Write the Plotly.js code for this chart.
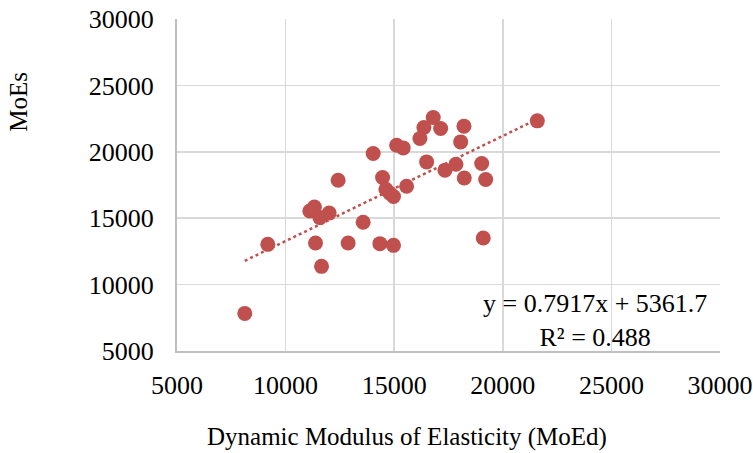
<!DOCTYPE html>
<html>
<head>
<meta charset="utf-8">
<script src="https://cdn.plot.ly/plotly-3.0.1.min.js"></script>
<style>html,body{margin:0;padding:0;background:#fff;}#chart{width:753px;height:453px;}</style>
</head>
<body>
<div id="chart"></div>
<script>
// Dynamic modulus (MoEd) values
const moed = [8120, 9180, 11115, 11327, 11576, 12005, 11378, 11654, 12419, 12880,
  13571, 14032, 14341, 14968, 14465, 14618, 14802, 14968, 15111, 15415,
  15571, 16184, 16369, 16797, 17138, 16493, 17336, 17843, 18060, 18212,
  18226, 19028, 19212, 19101, 21590];
// Static modulus (MoEs) values
const moes = [7830, 13030, 15543, 15845, 15045, 15392, 13130, 11373, 17858, 13130,
  14690, 19872, 13085, 12956, 18062, 17179, 16878, 16629, 20498, 20294,
  17406, 21003, 21833, 22587, 21757, 19238, 18612, 19065, 20747, 21931,
  18032, 19118, 17911, 13507, 22330];
// Trendline coefficients as printed on the chart
const slope = 0.7917;
const intercept = 5361.7;
const r2 = 0.488;
const xTitle = 'Dynamic Modulus of Elasticity (MoEd)';
const yTitle = 'MoEs';

const xmin = Math.min(...moed), xmax = Math.max(...moed);
const trendX = [xmin, xmax];
const trendY = trendX.map(v => slope * v + intercept);

const red = '#C0504D';
const fam = '"Liberation Serif", "Times New Roman", serif';
const tickFont = {family: fam, size: 26, color: '#000'};
const titleFont = {family: fam, size: 25, color: '#000'};

const data = [
  {x: trendX, y: trendY, type: 'scatter', mode: 'lines',
   line: {color: red, width: 2.5, dash: 'dot'}, hoverinfo: 'skip'},
  {x: moed, y: moes, type: 'scatter', mode: 'markers',
   marker: {color: red, size: 15}}
];

const layout = {
  width: 753, height: 453,
  margin: {l: 177, r: 33, t: 19, b: 102},
  paper_bgcolor: '#fff', plot_bgcolor: '#fff',
  showlegend: false,
  font: tickFont,
  xaxis: {
    range: [5000, 30000], dtick: 5000, tick0: 5000,
    showgrid: true, gridcolor: '#D9D9D9', gridwidth: 1.5,
    zeroline: false, showline: true, linecolor: '#BFBFBF', linewidth: 2,
    ticks: 'outside', ticklen: 10, tickcolor: 'rgba(0,0,0,0)',
    tickfont: tickFont, tickformat: 'd'
  },
  yaxis: {
    range: [5000, 30000], dtick: 5000, tick0: 5000,
    showgrid: true, gridcolor: '#D9D9D9', gridwidth: 1.5,
    zeroline: false, showline: true, linecolor: '#BFBFBF', linewidth: 2,
    ticks: 'outside', ticklen: 16, tickcolor: 'rgba(0,0,0,0)',
    tickfont: tickFont, tickformat: 'd'
  },
  annotations: [
    {x: 24249, y: 7300, xref: 'x', yref: 'y',
     text: 'y = ' + slope + 'x + ' + intercept + '<br>R² = ' + r2,
     showarrow: false, align: 'center', font: tickFont},
    {x: 0.4236, y: -0.259, xref: 'paper', yref: 'paper', xanchor: 'center', yanchor: 'middle',
     text: xTitle, showarrow: false, font: titleFont},
    {x: -0.2935, y: 0.75, xref: 'paper', yref: 'paper', xanchor: 'center', yanchor: 'middle',
     text: yTitle, textangle: -90, showarrow: false, font: titleFont}
  ]
};

Plotly.newPlot('chart', data, layout, {displayModeBar: false, staticPlot: true});
</script>
</body>
</html>
